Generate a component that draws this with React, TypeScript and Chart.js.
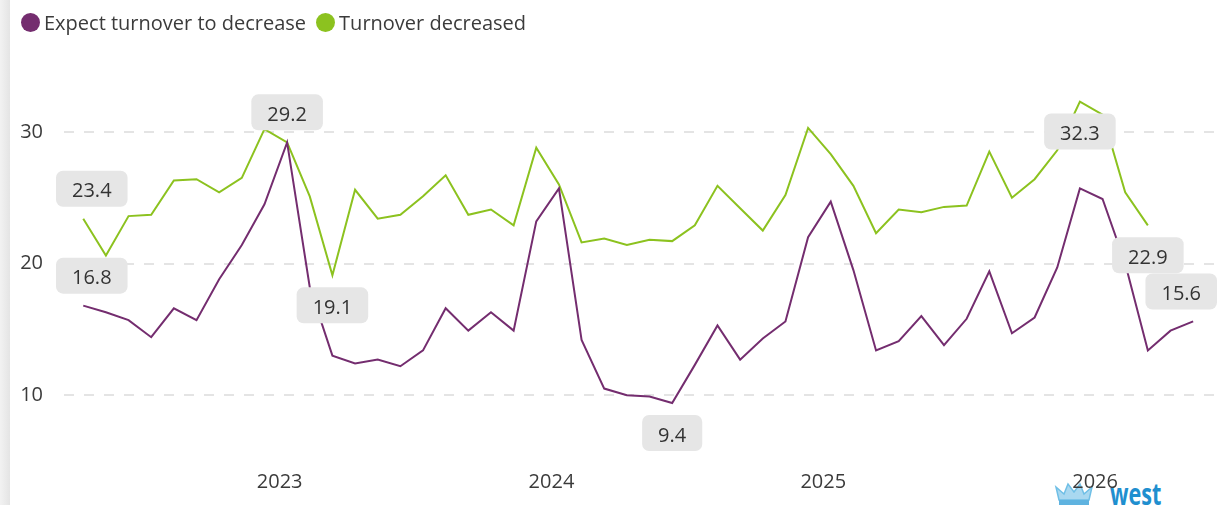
import React, { useEffect, useRef } from "react";
import { Chart, registerables } from "chart.js";

Chart.register(...registerables);

// ---------- data ----------
const months: string[] = [
  "2022-04", "2022-05", "2022-06", "2022-07", "2022-08", "2022-09", "2022-10", "2022-11", "2022-12",
  "2023-01", "2023-02", "2023-03", "2023-04", "2023-05", "2023-06", "2023-07", "2023-08", "2023-09", "2023-10", "2023-11", "2023-12",
  "2024-01", "2024-02", "2024-03", "2024-04", "2024-05", "2024-06", "2024-07", "2024-08", "2024-09", "2024-10", "2024-11", "2024-12",
  "2025-01", "2025-02", "2025-03", "2025-04", "2025-05", "2025-06", "2025-07", "2025-08", "2025-09", "2025-10", "2025-11", "2025-12",
  "2026-01", "2026-02", "2026-03", "2026-04", "2026-05",
];

const expectDecrease: number[] = [
  16.8, 16.3, 15.7, 14.4, 16.6, 15.7, 18.8, 21.4, 24.5,
  29.2, 18.2, 13.0, 12.4, 12.7, 12.2, 13.4, 16.6, 14.9, 16.3, 14.9, 23.2,
  25.7, 14.2, 10.5, 10.0, 9.9, 9.4, 12.3, 15.3, 12.7, 14.3, 15.6, 22.0,
  24.7, 19.5, 13.4, 14.1, 16.0, 13.8, 15.8, 19.4, 14.7, 15.9, 19.7, 25.7,
  24.9, 20.0, 13.4, 14.9, 15.6,
];

const turnoverDecreased: number[] = [
  23.4, 20.6, 23.6, 23.7, 26.3, 26.4, 25.4, 26.5, 30.2,
  29.2, 25.1, 19.1, 25.6, 23.4, 23.7, 25.1, 26.7, 23.7, 24.1, 22.9, 28.8,
  26.0, 21.6, 21.9, 21.4, 21.8, 21.7, 22.9, 25.9, 24.2, 22.5, 25.2, 30.3,
  28.3, 25.9, 22.3, 24.1, 23.9, 24.3, 24.4, 28.5, 25.0, 26.4, 28.6, 32.3,
  31.3, 25.4, 22.9,
];

const seriesNames: string[] = ["Expect turnover to decrease", "Turnover decreased"];
const seriesColors: string[] = ["#742d6f", "#8cc21f"];
const yearLabels: string[] = ["2023", "2024", "2025", "2026"];
const yTicks: number[] = [10, 20, 30];

// label placement for first / min / max / last of each series
const labelPlacements = [
  { first: "above", min: "below", max: "above", last: "above" },
  { first: "above", min: "below", max: "below", last: "below" },
];

const FONT = '"Segoe UI", "Open Sans", sans-serif';
const BASE_YEAR = 2022;
const POINT_OFFSET = 0.33; // points plotted ~10th of month

const monthPos = (m: string) => {
  const [y, mo] = m.split("-").map(Number);
  return (y - BASE_YEAR) * 12 + (mo - 1) + POINT_OFFSET;
};
const yearPos = (label: string) => (Number(label) - BASE_YEAR) * 12;

const labelPlugin = {
  id: "extremeLabels",
  afterDatasetsDraw(chart: any) {
    const ctx = chart.ctx;
    const area = chart.chartArea;
    ctx.save();
    ctx.font = `20px ${FONT}`;
    chart.data.datasets.forEach((ds: any, di: number) => {
      const meta = chart.getDatasetMeta(di);
      const vals: number[] = ds.data.map((p: any) => p.y);
      let min = 0, max = 0;
      vals.forEach((v, i) => {
        if (v < vals[min]) min = i;
        if (v > vals[max]) max = i;
      });
      const picks: Record<string, number> = { first: 0, min, max, last: vals.length - 1 };
      const place: any = labelPlacements[di];
      Object.keys(picks).forEach((k) => {
        const idx = picks[k];
        const el = meta.data[idx];
        if (!el) return;
        const text = vals[idx].toFixed(1);
        const w = ctx.measureText(text).width + 32;
        const h = 36;
        const cy = el.y + (place[k] === "above" ? -30 : 30);
        let left = el.x - w / 2;
        left = Math.max(area.left - 8, Math.min(area.right + 3 - w, left));
        ctx.fillStyle = "#e6e6e6";
        ctx.beginPath();
        ctx.roundRect(left, cy - h / 2, w, h, 7);
        ctx.fill();
        ctx.fillStyle = "#333333";
        ctx.textAlign = "center";
        ctx.textBaseline = "alphabetic";
        ctx.fillText(text, left + w / 2, cy + 8.5);
      });
    });
    ctx.restore();
  },
};

export default function App() {
  const canvasRef = useRef<HTMLCanvasElement | null>(null);

  useEffect(() => {
    if (!canvasRef.current) return;
    const series = [expectDecrease, turnoverDecreased];
    const chart = new Chart(canvasRef.current, {
      type: "line",
      data: {
        datasets: series.map((vals, si) => ({
          label: seriesNames[si],
          data: vals.map((v, i) => ({ x: monthPos(months[i]), y: v })),
          borderColor: seriesColors[si],
          backgroundColor: seriesColors[si],
          borderWidth: 2,
          pointRadius: 0,
          pointHoverRadius: 0,
          tension: 0,
          fill: false,
        })),
      },
      options: {
        animation: false,
        responsive: true,
        maintainAspectRatio: false,
        layout: { padding: { top: 66, right: 10, left: 0, bottom: 0 } },
        plugins: {
          legend: { display: false },
          tooltip: { enabled: false },
        },
        scales: {
          x: {
            type: "linear",
            min: 2.48,
            max: 53.25,
            afterBuildTicks: (scale: any) => {
              scale.ticks = yearLabels.map((l) => ({ value: yearPos(l) }));
            },
            afterFit: (scale: any) => {
              scale.height = 44;
            },
            grid: { display: false, drawTicks: false },
            border: { display: false },
            ticks: {
              autoSkip: false,
              maxRotation: 0,
              padding: 9,
              color: "#3b3b3b",
              font: { family: FONT, size: 20 },
              callback: (value: any) => {
                const i = yearLabels.findIndex((l) => yearPos(l) === value);
                return i >= 0 ? yearLabels[i] : "";
              },
            },
          },
          y: {
            min: 5,
            max: 35,
            afterBuildTicks: (scale: any) => {
              scale.ticks = yTicks.map((v) => ({ value: v }));
            },
            afterFit: (scale: any) => {
              scale.width = 64;
            },
            grid: { color: "#e4e4e4", lineWidth: 2, drawTicks: false },
            border: { display: false, dash: [10, 10] },
            ticks: {
              padding: 21,
              color: "#3b3b3b",
              font: { family: FONT, size: 20 },
            },
          },
        },
      },
      plugins: [labelPlugin],
    });
    return () => chart.destroy();
  }, []);

  return (
    <div
      style={{
        position: "fixed",
        left: 0,
        top: 0,
        width: 1224,
        height: 505,
        background: "#ffffff",
        overflow: "hidden",
        fontFamily: FONT,
      }}
    >
      <div
        style={{
          position: "absolute",
          left: 0,
          top: 0,
          width: 10,
          height: 505,
          background: "linear-gradient(to right, #f2f2f2, #e4e4e4)",
        }}
      />
      <svg
        style={{ position: "absolute", left: 1054, top: 481 }}
        width={40}
        height={26}
        viewBox="0 0 40 26"
      >
        <path
          d="M2 6 L10 13 L14 3 L20 11 L26 3 L30 13 L38 6 L35 19 L5 19 Z"
          fill="#a9d8f0"
          stroke="#6fbfe6"
          strokeWidth={1.5}
        />
        <rect x={5} y={19} width={30} height={6} fill="#5fb3e0" />
      </svg>
      <div
        style={{
          position: "absolute",
          left: 1110,
          top: 477,
          fontSize: 30,
          fontWeight: 700,
          color: "#1f8fcf",
          fontFamily: '"Open Sans", sans-serif',
          lineHeight: "34px",
          transform: "scaleX(0.72)",
          transformOrigin: "left top",
        }}
      >
        west
      </div>
      <div style={{ position: "absolute", left: 0, top: 0, width: 1224, height: 505 }}>
        <canvas ref={canvasRef} />
      </div>
      <div
        style={{
          position: "absolute",
          left: 21,
          top: 10,
          height: 25,
          display: "flex",
          alignItems: "center",
          fontSize: 20,
          color: "#3b3b3b",
          whiteSpace: "nowrap",
        }}
      >
        {seriesNames.map((name, i) => (
          <div key={name} style={{ display: "flex", alignItems: "center", marginRight: 10 }}>
            <span
              style={{
                display: "inline-block",
                width: 19,
                height: 19,
                borderRadius: "50%",
                background: seriesColors[i],
                marginRight: 4,
              }}
            />
            <span>{name}</span>
          </div>
        ))}
      </div>
    </div>
  );
}
